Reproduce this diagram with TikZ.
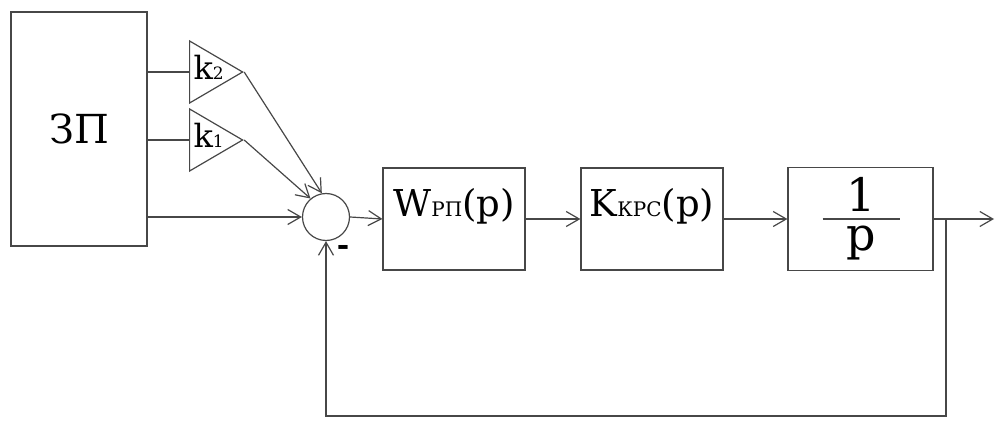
\documentclass[tikz,border=0pt]{standalone}
\usepackage{fontspec}
\newfontfamily\serf{DejaVu Serif}
\usetikzlibrary{arrows.meta,shapes.geometric}
\newcommand{\fs}[1]{\fontsize{#1}{#1}\selectfont}
\begin{document}
\begin{tikzpicture}[x=1pt,y=-1pt,
  line width=1.2pt,
  ln/.style={draw=black!72},
  blk/.style={draw=black!72, rectangle, inner sep=0pt, font=\serf},
  tri/.style={draw=black!72, isosceles triangle, isosceles triangle stretches, inner sep=0pt, shape border rotate=0},
  arr/.style={draw=black!72, -{Straight Barb[length=13pt,width=15pt,line width=1.2pt]}},
  lbl/.style={inner sep=0pt, text=black, font=\serf}]
\useasboundingbox (0,0) rectangle (995,430);

% blocks
\node[blk, minimum width=136pt, minimum height=234pt, text=black] (zp) at (79,129) {\fs{40}ЗП};
\node[tri, minimum width=62pt, minimum height=53pt, anchor=west] (k2) at (189,72) {};
\node[tri, minimum width=62pt, minimum height=53pt, anchor=west] (k1) at (189,140) {};
\node[lbl, anchor=base west] (k2t) at (193,80) {\fs{32}k\fs{17}2};
\node[lbl, anchor=base west] (k1t) at (193,148) {\fs{32}k\fs{17}1};
\node[draw=black!72, circle, minimum size=47pt, inner sep=0pt] (sum) at (326,217) {};
\node[lbl] (minus) at (343,250) {\fs{30}\bfseries -};
\node[blk, minimum width=142pt, minimum height=102pt, text=black, text height=20pt, text depth=24pt] (w) at (454,219) {\fs{37}W\fs{20}РП\fs{37}(p)};
\node[blk, minimum width=142pt, minimum height=102pt, text=black, text height=20pt, text depth=24pt] (k) at (652,219) {\fs{37}K\fs{20}КРС\fs{37}(p)};
\node[blk, minimum width=145pt, minimum height=103pt] (pbox) at (860.5,219) {};
\node[lbl, anchor=base] (one) at (861,212) {\fs{46}1};
\node[lbl, anchor=base] (pp) at (861,251) {\fs{46}p};
\draw[ln] ([xshift=-38pt]pbox.center) -- ([xshift=39pt]pbox.center);

\coordinate (out) at (994,219);
\coordinate (br) at (946,219);
\coordinate (bot) at (0,416);

% connectors
\draw[ln] (zp.east |- k2.west) -- (k2.west);
\draw[ln] (zp.east |- k1.west) -- (k1.west);
\draw[arr] (zp.east |- sum.west) -- (sum.west);
\draw[arr] (k2.apex) -- (sum.100);
\draw[arr] (k1.apex) -- (sum.130);
\draw[arr] (sum.east) -- (w.west);
\draw[arr] (w.east) -- (k.west);
\draw[arr] (k.east) -- (pbox.west);
\draw[arr] (pbox.east) -- (out);
\draw[arr] (br) -- (br |- bot) -| (sum.south);
\end{tikzpicture}
\end{document}
